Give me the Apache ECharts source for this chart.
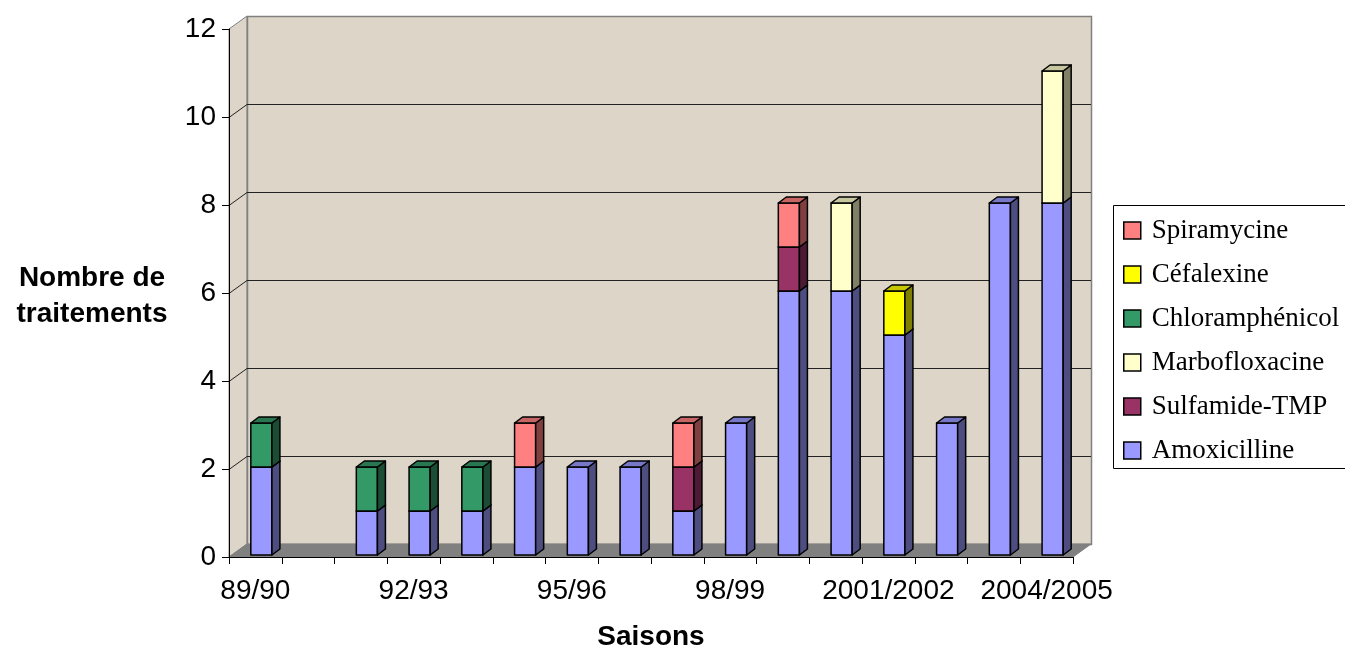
<!DOCTYPE html>
<html>
<head>
<meta charset="utf-8">
<script src="https://cdn.jsdelivr.net/npm/echarts@6/dist/echarts.min.js"></script>
<style>
  html, body { margin: 0; padding: 0; background: #fff; }
  #chart { width: 1345px; height: 648px; }
</style>
</head>
<body>
<div id="chart"></div>
<script>
// Saisons (one category per season)
const seasons = ['89/90', '90/91', '91/92', '92/93', '93/94', '94/95', '95/96', '96/97',
                 '97/98', '98/99', '99/00', '2000/2001', '2001/2002', '2002/2003', '2003/2004', '2004/2005'];

// Number of treatments per antibiotic, listed from the bottom of each stack upward
const amoxicilline    = [2, 0, 1, 1, 1, 2, 2, 2, 1, 3, 6, 6, 5, 3, 8, 8];
const sulfamideTMP    = [0, 0, 0, 0, 0, 0, 0, 0, 1, 0, 1, 0, 0, 0, 0, 0];
const marbofloxacine  = [0, 0, 0, 0, 0, 0, 0, 0, 0, 0, 0, 2, 0, 0, 0, 3];
const chloramphenicol = [1, 0, 1, 1, 1, 0, 0, 0, 0, 0, 0, 0, 0, 0, 0, 0];
const cefalexine      = [0, 0, 0, 0, 0, 0, 0, 0, 0, 0, 0, 0, 1, 0, 0, 0];
const spiramycine     = [0, 0, 0, 0, 0, 1, 0, 0, 1, 0, 1, 0, 0, 0, 0, 0];

// Value-axis ticks
const yTicks = [0, 2, 4, 6, 8, 10, 12];

const stackSeries = [
  { name: 'Amoxicilline',    values: amoxicilline,    color: '#9999FF' },
  { name: 'Sulfamide-TMP',   values: sulfamideTMP,    color: '#993366' },
  { name: 'Marbofloxacine',  values: marbofloxacine,  color: '#FFFFCC' },
  { name: 'Chloramphénicol', values: chloramphenicol, color: '#339966' },
  { name: 'Céfalexine',      values: cefalexine,      color: '#FFFF00' },
  { name: 'Spiramycine',     values: spiramycine,     color: '#FF8080' }
];
const legendOrder = ['Spiramycine', 'Céfalexine', 'Chloramphénicol', 'Marbofloxacine', 'Sulfamide-TMP', 'Amoxicilline'];

// Oblique depth of the plot box and of each bar
const WALL_DX = 18, WALL_DY = -13;
const BAR_DX = 8, BAR_DY = -6;
const BAR_OFF_X = 6, BAR_OFF_Y = -2;

function shade(hex, f) {
  const n = parseInt(hex.slice(1), 16);
  const r = Math.round(((n >> 16) & 255) * f);
  const g = Math.round(((n >> 8) & 255) * f);
  const b = Math.round((n & 255) * f);
  return 'rgb(' + r + ',' + g + ',' + b + ')';
}

// Running stack bases
const base = seasons.map(() => 0);
const barSeries = stackSeries.map(s => {
  const data = [];
  s.values.forEach((v, i) => {
    if (v > 0) data.push([i, base[i], base[i] + v]);
    base[i] += v;
  });
  const front = s.color, side = shade(s.color, 0.5), top = shade(s.color, 0.78);
  return {
    type: 'custom',
    name: s.name,
    itemStyle: { color: s.color },
    encode: { x: 0, y: [1, 2] },
    z: 3,
    data: data,
    renderItem: function (params, api) {
      const i = api.value(0), lo = api.value(1), hi = api.value(2);
      const pLo = api.coord([i, lo]);
      const pHi = api.coord([i, hi]);
      const w = api.size([1, 0])[0] * 0.4;
      const xl = pLo[0] + BAR_OFF_X - w / 2, xr = xl + w;
      const yb = pLo[1] + BAR_OFF_Y, yt = pHi[1] + BAR_OFF_Y;
      const edge = { stroke: '#000', lineWidth: 1.5, lineJoin: 'round' };
      return {
        type: 'group',
        children: [
          { type: 'rect', shape: { x: xl, y: yt, width: w, height: yb - yt },
            style: Object.assign({ fill: front }, edge) },
          { type: 'polygon', shape: { points: [[xr, yb], [xr + BAR_DX, yb + BAR_DY], [xr + BAR_DX, yt + BAR_DY], [xr, yt]] },
            style: Object.assign({ fill: side }, edge) },
          { type: 'polygon', shape: { points: [[xl, yt], [xl + BAR_DX, yt + BAR_DY], [xr + BAR_DX, yt + BAR_DY], [xr, yt]] },
            style: Object.assign({ fill: top }, edge) }
        ]
      };
    }
  };
});

// Walls, floor and back-wall grid lines of the 3D box
const wallSeries = {
  type: 'custom',
  name: 'walls',
  silent: true,
  z: 1,
  encode: { x: 0, y: 1 },
  data: [[0, 0]],
  renderItem: function (params, api) {
    const cs = params.coordSys;
    const x0 = cs.x, y0 = cs.y, w = cs.width, h = cs.height;
    const wall = '#ddd5c7', gray = '#808080';
    const children = [
      { type: 'polygon', shape: { points: [[x0, y0], [x0 + WALL_DX, y0 + WALL_DY], [x0 + WALL_DX, y0 + h + WALL_DY], [x0, y0 + h]] },
        style: { fill: wall, stroke: gray, lineWidth: 1 } },
      { type: 'rect', shape: { x: x0 + WALL_DX + 0.5, y: y0 + WALL_DY + 0.5, width: w, height: h },
        style: { fill: wall, stroke: gray, lineWidth: 1.5 } },
      { type: 'polygon', shape: { points: [[x0, y0 + h], [x0 + WALL_DX, y0 + h + WALL_DY], [x0 + w + WALL_DX, y0 + h + WALL_DY], [x0 + w, y0 + h]] },
        style: { fill: gray, stroke: gray, lineWidth: 1 } }
    ];
    yTicks.forEach(v => {
      if (v === 0 || v === 12) return;
      const yv = Math.round(api.coord([0, v])[1]) + 0.5;
      children.push({
        type: 'polyline',
        shape: { points: [[x0, yv], [x0 + WALL_DX, yv + WALL_DY], [x0 + w + WALL_DX, yv + WALL_DY]] },
        style: { stroke: '#222', lineWidth: 1, fill: null }
      });
    });
    return { type: 'group', children: children };
  }
};

const chart = echarts.init(document.getElementById('chart'), null, { renderer: 'canvas' });
chart.setOption({
  backgroundColor: '#ffffff',
  animation: false,
  textStyle: { fontFamily: 'Liberation Sans' },
  grid: { left: 229, right: 272, top: 29, bottom: 91, containLabel: false, outerBoundsMode: 'none' },
  xAxis: {
    type: 'category',
    data: seasons,
    boundaryGap: true,
    z: 10,
    name: 'Saisons',
    nameLocation: 'middle',
    nameGap: 66,
    nameTextStyle: { fontFamily: 'Liberation Sans', fontSize: 28, fontWeight: 'bold', color: '#000' },
    axisLine: { show: true, lineStyle: { color: '#000', width: 1 } },
    axisTick: { show: true, interval: 0, length: 7, lineStyle: { color: '#000' } },
    axisLabel: { interval: 2, fontSize: 28, color: '#000', margin: 20, fontFamily: 'Liberation Sans' },
    splitLine: { show: false }
  },
  yAxis: {
    type: 'value',
    min: 0, max: 12, interval: 2,
    z: 10,
    axisLine: { show: true, lineStyle: { color: '#000', width: 1 } },
    axisTick: { show: true, length: 7, lineStyle: { color: '#000' } },
    axisLabel: { fontSize: 28, color: '#000', margin: 13, fontFamily: 'Liberation Sans' },
    splitLine: { show: false }
  },
  legend: {
    data: legendOrder,
    orient: 'vertical',
    left: 1118,
    top: 212,
    icon: 'rect',
    itemWidth: 17,
    itemHeight: 17,
    itemGap: 17,
    itemStyle: { borderColor: '#000', borderWidth: 1.5 },
    textStyle: { fontFamily: 'Liberation Serif', fontSize: 27, color: '#000', lineHeight: 27, padding: [0, 0, 0, 6] }
  },
  graphic: [
    { type: 'rect', silent: true, shape: { x: 1113.5, y: 205.5, width: 240, height: 263 },
      style: { fill: 'none', stroke: '#000', lineWidth: 1 } },
    { type: 'text', silent: true, left: 12, top: 260,
      style: { text: 'Nombre de\ntraitements', fill: '#000', font: 'bold 28px "Liberation Sans"',
               textAlign: 'center', lineHeight: 36, width: 160 } }
  ],
  series: [wallSeries].concat(barSeries)
});
</script>
</body>
</html>
